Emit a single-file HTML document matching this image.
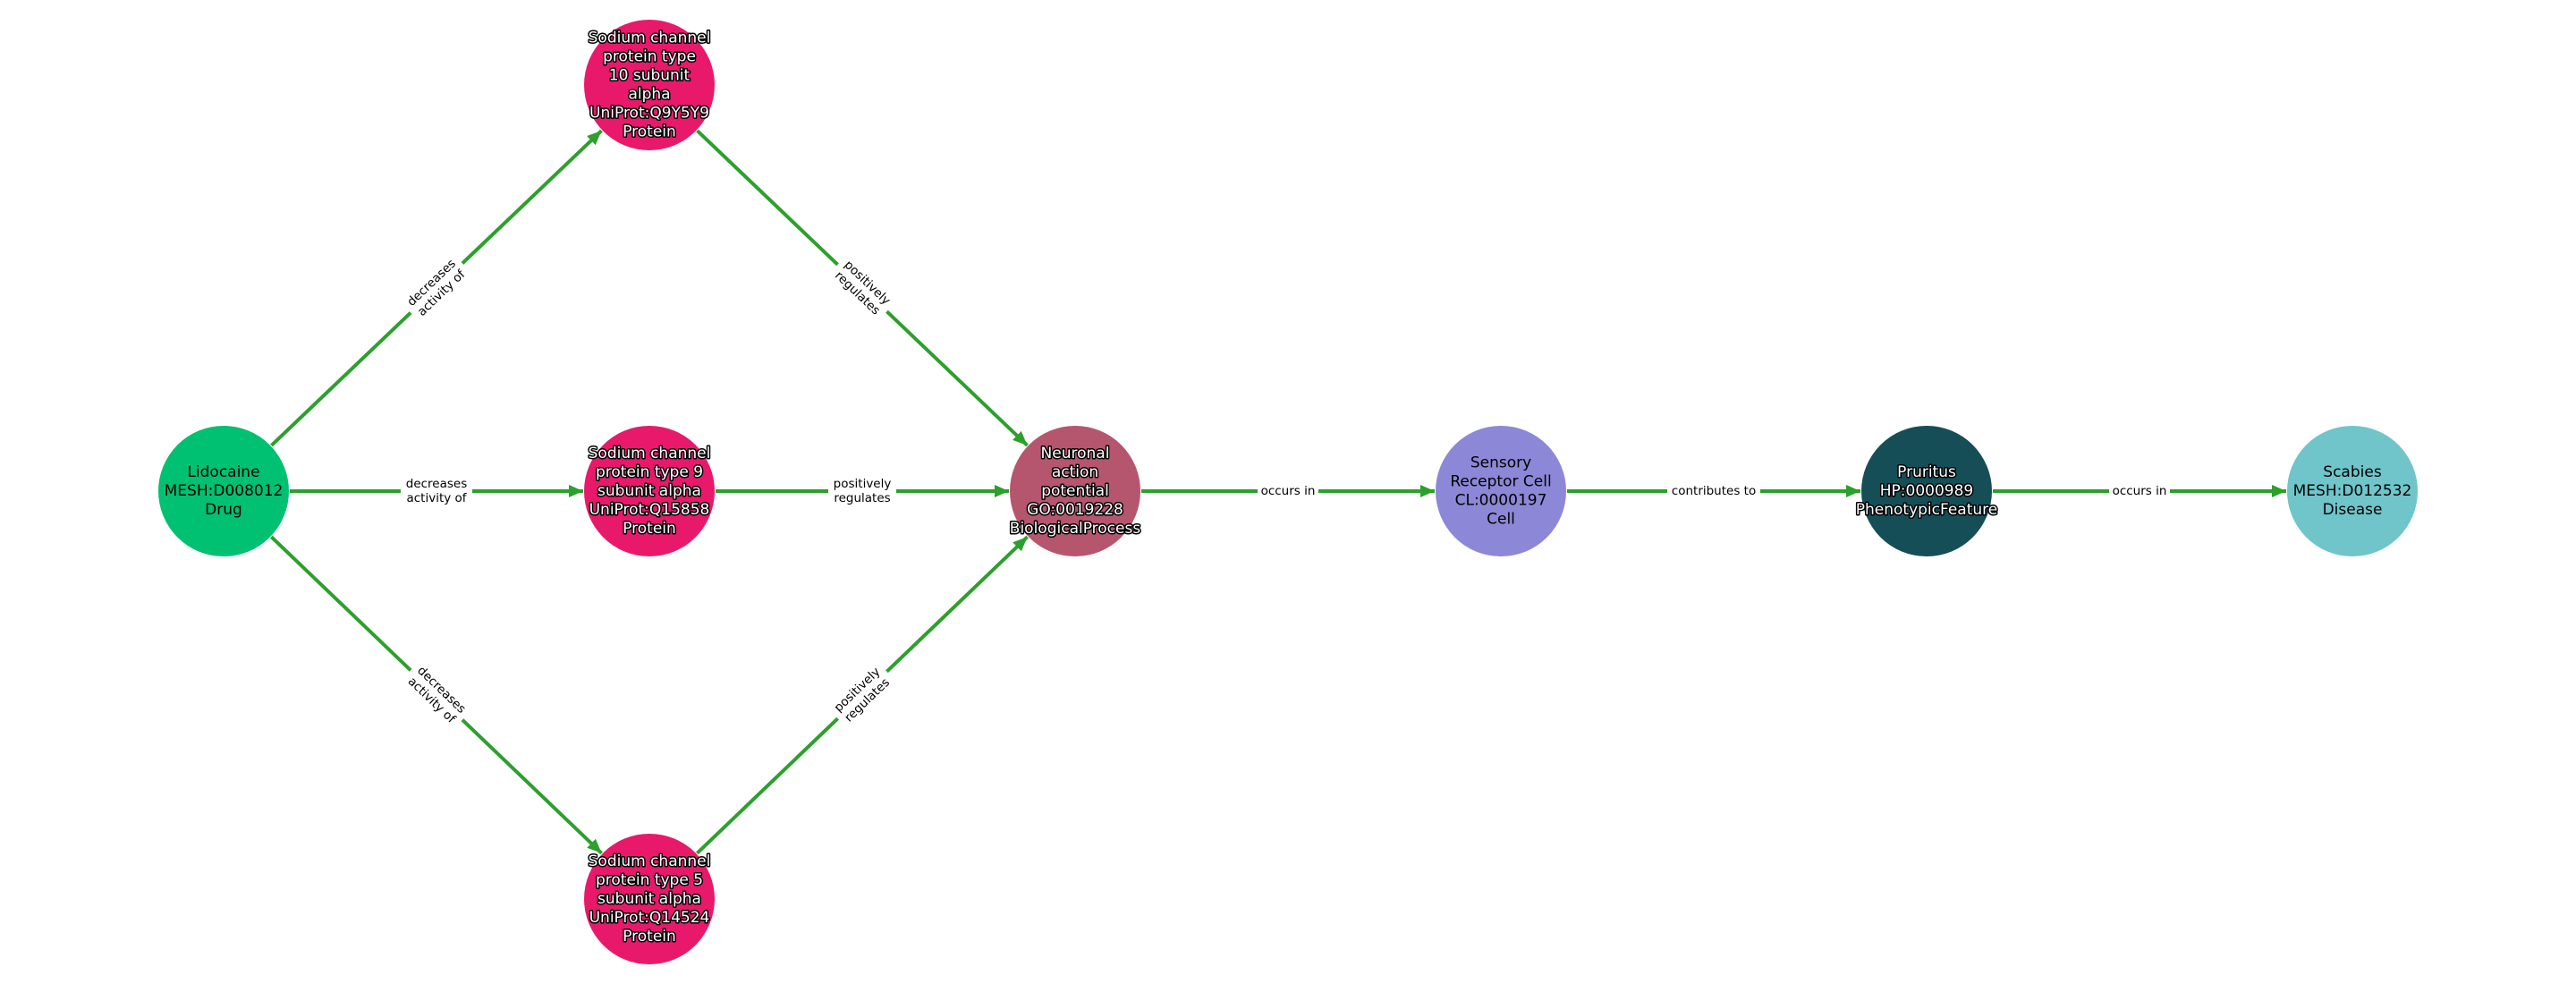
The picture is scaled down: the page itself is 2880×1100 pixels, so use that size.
<!DOCTYPE html>
<html><head><meta charset="utf-8"><style>
html,body{margin:0;padding:0;background:#fff;}
svg{display:block;}
.n{font-family:"DejaVu Sans","Liberation Sans",sans-serif;font-size:17px;text-anchor:middle;dominant-baseline:central;}
.w{fill:#fff;stroke:#000;stroke-width:3px;paint-order:stroke;stroke-linejoin:round;}
.b{fill:#000;}
.e{font-family:"DejaVu Sans","Liberation Sans",sans-serif;font-size:13.5px;text-anchor:middle;dominant-baseline:central;fill:#000;}
line{stroke:#2ca02c;stroke-width:4;}
</style></head><body>
<svg width="2880" height="1100" viewBox="0 0 2880 1100" xmlns="http://www.w3.org/2000/svg">
<defs><marker id="a" markerUnits="userSpaceOnUse" markerWidth="18" markerHeight="14" refX="16" refY="7" orient="auto"><path d="M0,0 L16,7 L0,14 Z" fill="#2ca02c"/></marker></defs>
<g marker-end="url(#a)">
<line x1="303.5" y1="497.9" x2="672.5" y2="146.1"/>
<line x1="324" y1="549" x2="652" y2="549"/>
<line x1="303.4" y1="600.2" x2="672.6" y2="953.8"/>
<line x1="779.5" y1="146.1" x2="1148.5" y2="497.9"/>
<line x1="800" y1="549" x2="1128" y2="549"/>
<line x1="779.4" y1="953.8" x2="1148.6" y2="600.2"/>
<line x1="1276" y1="549" x2="1604" y2="549"/>
<line x1="1752" y1="549" x2="2080" y2="549"/>
<line x1="2228" y1="549" x2="2556" y2="549"/>
</g>
<!-- edge labels -->
<g transform="translate(488,322) rotate(-43.6)"><rect x="-40" y="-18" width="80" height="36" fill="#fff"/><text class="e" y="-8">decreases</text><text class="e" y="8">activity of</text></g>
<g transform="translate(488,549)"><rect x="-40" y="-18" width="80" height="36" fill="#fff"/><text class="e" y="-8">decreases</text><text class="e" y="8">activity of</text></g>
<g transform="translate(488,777) rotate(43.8)"><rect x="-40" y="-18" width="80" height="36" fill="#fff"/><text class="e" y="-8">decreases</text><text class="e" y="8">activity of</text></g>
<g transform="translate(964,322) rotate(43.6)"><rect x="-38" y="-18" width="76" height="36" fill="#fff"/><text class="e" y="-8">positively</text><text class="e" y="8">regulates</text></g>
<g transform="translate(964,549)"><rect x="-38" y="-18" width="76" height="36" fill="#fff"/><text class="e" y="-8">positively</text><text class="e" y="8">regulates</text></g>
<g transform="translate(964,777) rotate(-43.8)"><rect x="-38" y="-18" width="76" height="36" fill="#fff"/><text class="e" y="-8">positively</text><text class="e" y="8">regulates</text></g>
<g transform="translate(1440,549)"><rect x="-34" y="-10" width="68" height="20" fill="#fff"/><text class="e">occurs in</text></g>
<g transform="translate(1916,549)"><rect x="-52" y="-10" width="104" height="20" fill="#fff"/><text class="e">contributes to</text></g>
<g transform="translate(2392,549)"><rect x="-34" y="-10" width="68" height="20" fill="#fff"/><text class="e">occurs in</text></g>
<!-- nodes -->
<circle cx="250" cy="549" r="73" fill="#00c171"/>
<text class="n b" x="250"><tspan x="250" y="528">Lidocaine</tspan><tspan x="250" y="549">MESH:D008012</tspan><tspan x="250" y="570">Drug</tspan></text>
<circle cx="726" cy="95" r="73" fill="#e8196a"/>
<text class="n w"><tspan x="726" y="42.5">Sodium channel</tspan><tspan x="726" y="63.5">protein type</tspan><tspan x="726" y="84.5">10 subunit</tspan><tspan x="726" y="105.5">alpha</tspan><tspan x="726" y="126.5">UniProt:Q9Y5Y9</tspan><tspan x="726" y="147.5">Protein</tspan></text>
<circle cx="726" cy="549" r="73" fill="#e8196a"/>
<text class="n w"><tspan x="726" y="507">Sodium channel</tspan><tspan x="726" y="528">protein type 9</tspan><tspan x="726" y="549">subunit alpha</tspan><tspan x="726" y="570">UniProt:Q15858</tspan><tspan x="726" y="591">Protein</tspan></text>
<circle cx="726" cy="1005" r="73" fill="#e8196a"/>
<text class="n w"><tspan x="726" y="963">Sodium channel</tspan><tspan x="726" y="984">protein type 5</tspan><tspan x="726" y="1005">subunit alpha</tspan><tspan x="726" y="1026">UniProt:Q14524</tspan><tspan x="726" y="1047">Protein</tspan></text>
<circle cx="1202" cy="549" r="73" fill="#b5566e"/>
<text class="n w"><tspan x="1202" y="507">Neuronal</tspan><tspan x="1202" y="528">action</tspan><tspan x="1202" y="549">potential</tspan><tspan x="1202" y="570">GO:0019228</tspan><tspan x="1202" y="591">BiologicalProcess</tspan></text>
<circle cx="1678" cy="549" r="73" fill="#8c87d6"/>
<text class="n b"><tspan x="1678" y="517.5">Sensory</tspan><tspan x="1678" y="538.5">Receptor Cell</tspan><tspan x="1678" y="559.5">CL:0000197</tspan><tspan x="1678" y="580.5">Cell</tspan></text>
<circle cx="2154" cy="549" r="73" fill="#154e56"/>
<text class="n w"><tspan x="2154" y="528">Pruritus</tspan><tspan x="2154" y="549">HP:0000989</tspan><tspan x="2154" y="570">PhenotypicFeature</tspan></text>
<circle cx="2630" cy="549" r="73" fill="#6fc5c9"/>
<text class="n b"><tspan x="2630" y="528">Scabies</tspan><tspan x="2630" y="549">MESH:D012532</tspan><tspan x="2630" y="570">Disease</tspan></text>
</svg>
</body></html>
